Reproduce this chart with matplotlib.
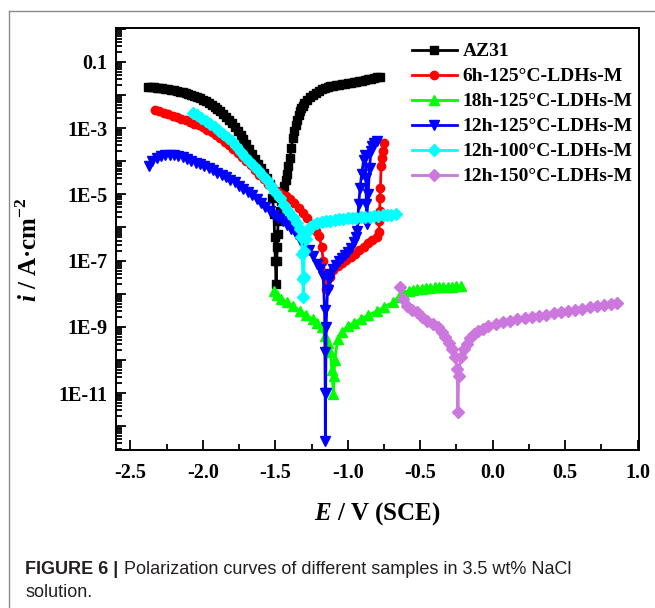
import matplotlib
matplotlib.use("Agg")
import matplotlib.pyplot as plt
import numpy as np
from matplotlib.ticker import LogLocator, FuncFormatter, MultipleLocator, NullFormatter
from matplotlib.lines import Line2D

plt.rcParams['font.family'] = ['Liberation Serif', 'DejaVu Serif']
plt.rcParams['font.weight'] = 'bold'
plt.rcParams['axes.unicode_minus'] = False
plt.rcParams['mathtext.fontset'] = 'custom'
plt.rcParams['mathtext.rm'] = 'Liberation Serif:bold'
plt.rcParams['mathtext.bfit'] = 'Liberation Serif:italic:bold'

# polarization data: potential E (V vs SCE) and log10 of current density (A/cm2)
az31_E = [-2.38, -2.36, -2.34, -2.32, -2.30, -2.28, -2.26, -2.24, -2.22, -2.20, -2.18, -2.16,
          -2.14, -2.12, -2.10, -2.08, -2.06, -2.04, -2.02, -2.00, -1.98, -1.96, -1.94, -1.92,
          -1.90, -1.88, -1.86, -1.84, -1.82, -1.80, -1.78, -1.76, -1.74, -1.72, -1.70, -1.68,
          -1.66, -1.64, -1.62, -1.60, -1.58, -1.56, -1.54, -1.52, -1.51, -1.505, -1.50, -1.495,
          -1.49, -1.487, -1.485, -1.48, -1.47, -1.46, -1.45, -1.44, -1.43, -1.42, -1.41, -1.40,
          -1.39, -1.38, -1.37, -1.36, -1.35, -1.34, -1.33, -1.32, -1.31, -1.30, -1.28, -1.26,
          -1.24, -1.22, -1.20, -1.18, -1.16, -1.14, -1.12, -1.10, -1.08, -1.06, -1.04, -1.02,
          -1.00, -0.98, -0.96, -0.94, -0.92, -0.90, -0.88, -0.86, -0.84, -0.82, -0.80, -0.78]
az31_logi = [-1.75, -1.76, -1.77, -1.78, -1.79, -1.80, -1.82, -1.83, -1.85, -1.86, -1.88, -1.90,
             -1.92, -1.94, -1.97, -2.00, -2.03, -2.06, -2.10, -2.14, -2.19, -2.24, -2.30, -2.36,
             -2.43, -2.50, -2.58, -2.67, -2.76, -2.86, -2.96, -3.08, -3.20, -3.34, -3.48, -3.63,
             -3.78, -3.93, -4.08, -4.22, -4.36, -4.52, -4.70, -5.10, -5.60, -6.30, -7.00, -7.70,
             -7.00, -6.60, -6.20, -5.80, -5.50, -5.20, -4.95, -4.75, -4.58, -4.40, -4.15, -3.90,
             -3.60, -3.30, -3.08, -2.90, -2.75, -2.62, -2.50, -2.40, -2.32, -2.24, -2.14, -2.05,
             -1.99, -1.93, -1.88, -1.83, -1.80, -1.77, -1.74, -1.72, -1.70, -1.69, -1.67, -1.66,
             -1.64, -1.63, -1.61, -1.60, -1.58, -1.57, -1.55, -1.53, -1.51, -1.49, -1.47, -1.45]

h6_E = [-2.33, -2.30, -2.27, -2.24, -2.21, -2.18, -2.15, -2.12, -2.09, -2.06, -2.03, -2.00,
        -1.97, -1.94, -1.91, -1.88, -1.85, -1.82, -1.79, -1.76, -1.73, -1.70, -1.67, -1.64,
        -1.61, -1.58, -1.55, -1.52, -1.49, -1.46, -1.43, -1.40, -1.37, -1.34, -1.31, -1.28,
        -1.25, -1.22, -1.20, -1.18, -1.17, -1.16, -1.15, -1.14, -1.12, -1.10, -1.07, -1.04,
        -1.01, -0.98, -0.95, -0.92, -0.89, -0.86, -0.83, -0.80, -0.785, -0.782, -0.78, -0.778,
        -0.775, -0.77, -0.765, -0.76, -0.75]
h6_logi = [-2.45, -2.50, -2.54, -2.59, -2.63, -2.68, -2.72, -2.77, -2.82, -2.87, -2.92, -2.98,
           -3.05, -3.12, -3.21, -3.30, -3.41, -3.52, -3.63, -3.74, -3.86, -3.99, -4.12, -4.26,
           -4.41, -4.55, -4.68, -4.79, -4.89, -4.98, -5.05, -5.15, -5.26, -5.40, -5.55, -5.72,
           -5.91, -6.11, -6.25, -6.60, -7.00, -7.40, -7.85, -7.80, -7.50, -7.30, -7.17, -7.06,
           -6.98, -6.89, -6.79, -6.68, -6.58, -6.48, -6.39, -6.30, -6.15, -5.80, -5.50, -5.10,
           -4.80, -4.16, -3.90, -3.70, -3.44]

h18_E = [-1.51, -1.49, -1.46, -1.42, -1.38, -1.33, -1.29, -1.24, -1.21, -1.18, -1.16, -1.14,
         -1.12, -1.11, -1.10, -1.095, -1.09, -1.07, -1.04, -1.00, -0.96, -0.91, -0.86, -0.80,
         -0.75, -0.69, -0.65, -0.62, -0.58, -0.55, -0.52, -0.49, -0.46, -0.43, -0.40, -0.37,
         -0.34, -0.31, -0.28, -0.25, -0.22]
h18_logi = [-7.93, -8.05, -8.15, -8.26, -8.37, -8.53, -8.65, -8.77, -8.88, -9.01, -9.28, -9.50,
            -9.77, -10.30, -11.03, -10.49, -10.00, -9.37, -9.15, -8.98, -8.88, -8.77, -8.65, -8.53,
            -8.40, -8.26, -8.10, -7.96, -7.92, -7.89, -7.87, -7.85, -7.84, -7.82, -7.80, -7.80,
            -7.80, -7.79, -7.79, -7.78, -7.78]

h12_E = [-2.37, -2.35, -2.32, -2.29, -2.26, -2.23, -2.20, -2.17, -2.14, -2.11, -2.08, -2.05,
         -2.02, -1.99, -1.96, -1.93, -1.90, -1.87, -1.84, -1.81, -1.78, -1.75, -1.72, -1.69,
         -1.66, -1.63, -1.60, -1.57, -1.54, -1.51, -1.48, -1.45, -1.42, -1.39, -1.36, -1.33,
         -1.30, -1.27, -1.24, -1.21, -1.19, -1.17, -1.16, -1.158, -1.156, -1.155, -1.153, -1.15,
         -1.14, -1.13, -1.12, -1.10, -1.08, -1.06, -1.04, -1.02, -1.00, -0.98, -0.96, -0.945,
         -0.935, -0.93, -0.925, -0.915, -0.905, -0.89, -0.88, -0.875, -0.872, -0.87, -0.86,
         -0.85, -0.84, -0.83, -0.82, -0.80]
h12_logi = [-4.16, -4.00, -3.90, -3.84, -3.81, -3.80, -3.81, -3.84, -3.88, -3.93, -3.99, -4.05,
            -4.10, -4.16, -4.22, -4.28, -4.35, -4.41, -4.48, -4.56, -4.64, -4.74, -4.84, -4.93,
            -5.03, -5.13, -5.25, -5.38, -5.51, -5.62, -5.72, -5.82, -5.92, -6.05, -6.20, -6.37,
            -6.52, -6.67, -6.87, -7.10, -7.25, -7.48, -8.50, -9.77, -11.00, -12.45, -11.00, -9.00,
            -7.90, -7.60, -7.40, -7.27, -7.15, -7.02, -6.92, -6.83, -6.75, -6.62, -6.45, -6.28,
            -6.10, -5.75, -5.30, -4.80, -4.40, -3.95, -3.80, -4.50, -5.30, -5.90, -5.00,
            -4.20, -3.70, -3.55, -3.45, -3.40]

h12_100_E = [-2.07, -2.04, -2.01, -1.98, -1.95, -1.92, -1.89, -1.86, -1.83, -1.80, -1.77, -1.74,
             -1.71, -1.68, -1.65, -1.62, -1.59, -1.56, -1.53, -1.50, -1.47, -1.44, -1.41, -1.38,
             -1.35, -1.33, -1.32, -1.315, -1.31, -1.308, -1.305, -1.30, -1.29, -1.28, -1.26, -1.24,
             -1.21, -1.18, -1.15, -1.12, -1.09, -1.06, -1.03, -1.00, -0.97, -0.94, -0.91, -0.88,
             -0.85, -0.82, -0.79, -0.76, -0.73, -0.70, -0.67]
h12_100_logi = [-2.54, -2.62, -2.70, -2.78, -2.87, -2.98, -3.08, -3.19, -3.30, -3.40, -3.55, -3.71,
                -3.87, -4.00, -4.14, -4.27, -4.41, -4.58, -4.76, -4.93, -5.12, -5.32, -5.50, -5.68,
                -5.88, -6.05, -6.30, -6.80, -7.57, -8.10, -7.50, -6.70, -6.35, -6.15, -6.00, -5.93,
                -5.88, -5.85, -5.82, -5.80, -5.78, -5.76, -5.75, -5.73, -5.72, -5.71, -5.70, -5.69,
                -5.68, -5.67, -5.66, -5.64, -5.63, -5.62, -5.61]

h12_150_E = [-0.64, -0.62, -0.59, -0.555, -0.52, -0.485, -0.45, -0.415, -0.38, -0.35, -0.33, -0.30,
             -0.28, -0.26, -0.245, -0.24, -0.235, -0.22, -0.20, -0.18, -0.155, -0.13, -0.10, -0.07,
             -0.03, 0.02, 0.07, 0.12, 0.17, 0.22, 0.27, 0.32, 0.37, 0.42, 0.47, 0.52, 0.57, 0.62,
             0.67, 0.72, 0.77, 0.82, 0.86]
h12_150_logi = [-7.81, -8.15, -8.38, -8.48, -8.56, -8.70, -8.83, -8.92, -9.01, -9.15, -9.31, -9.50,
                -9.67, -9.90, -10.28, -11.57, -10.50, -9.90, -9.68, -9.52, -9.35, -9.22, -9.14, -9.07,
                -8.99, -8.93, -8.87, -8.82, -8.77, -8.73, -8.70, -8.67, -8.63, -8.58, -8.54, -8.51,
                -8.48, -8.45, -8.41, -8.38, -8.35, -8.31, -8.29]

series = [
    ('AZ31', az31_E, az31_logi, 'black', 's', 5.5),
    ('6h-125°C-LDHs-M', h6_E, h6_logi, '#ff0000', 'o', 6),
    ('18h-125°C-LDHs-M', h18_E, h18_logi, '#00ff00', '^', 7),
    ('12h-125°C-LDHs-M', h12_E, h12_logi, '#0000ff', 'v', 7),
    ('12h-100°C-LDHs-M', h12_100_E, h12_100_logi, '#00ffff', 'D', 6),
    ('12h-150°C-LDHs-M', h12_150_E, h12_150_logi, '#cc77dd', 'D', 6),
]

fig = plt.figure(figsize=(6.55, 6.08), dpi=100)
ax = fig.add_axes([116 / 655, 158 / 608, 523 / 655, 422 / 608])

for name, E, logi, col, mk, ms in series:
    ax.plot(E, 10 ** np.array(logi), color=col, marker=mk, markersize=ms,
            linewidth=2, label=name)

ax.set_yscale('log')
ax.set_xlim(-2.6, 1.01)
ax.set_ylim(10 ** -12.72, 10 ** 0.02)

ax.xaxis.set_major_locator(MultipleLocator(0.5))
ax.xaxis.set_minor_locator(MultipleLocator(0.25))
ax.xaxis.set_major_formatter(FuncFormatter(lambda v, p: '%.1f' % v))

ax.yaxis.set_major_locator(LogLocator(base=10, numticks=30))
ax.yaxis.set_minor_locator(LogLocator(base=10, subs=np.arange(2, 10), numticks=30))
ax.yaxis.set_minor_formatter(NullFormatter())


def ylab(v, p):
    e = int(round(np.log10(v)))
    if e % 2 == 0:
        return ''
    if e == -1:
        return '0.1'
    return '1E%d' % e


ax.yaxis.set_major_formatter(FuncFormatter(ylab))

ax.tick_params(which='both', direction='in', top=False, right=False, width=1.3)
ax.tick_params(which='major', length=7)
ax.tick_params(which='minor', length=4)
ax.tick_params(axis='x', which='major', pad=9, labelsize=14.5)
ax.tick_params(axis='y', which='major', pad=6, labelsize=14.5)
for s in ax.spines.values():
    s.set_linewidth(1.4)

ax.set_xlabel(r'$\mathbfit{E}$ / V (SCE)', fontsize=18, fontweight='bold')
ax.set_ylabel(r'$\mathbfit{i}$ / A·cm$^{\mathrm{-2}}$', fontsize=18, fontweight='bold')
ax.xaxis.set_label_coords(0.5, -0.118)
ax.yaxis.set_label_coords(-0.1415, 0.474)

ax.legend(loc='upper left', bbox_to_anchor=(0.566, 0.965), frameon=False, borderpad=0,
          borderaxespad=0, handlelength=2.3, handletextpad=0.3, labelspacing=0.38,
          numpoints=1, prop={'family': 'Liberation Serif', 'weight': 'bold', 'size': 14})

# page frame lines
fig.add_artist(Line2D([9 / 655, 1], [1 - 11 / 608, 1 - 11 / 608], color='#8a8a8a', linewidth=1))
fig.add_artist(Line2D([9 / 655, 9 / 655], [0, 1 - 11 / 608], color='#8a8a8a', linewidth=1))

# caption
cap_col = '#231f20'
t1 = fig.text(25 / 655, 1 - 574 / 608, 'FIGURE 6 |', fontsize=13, fontweight='bold',
              family='Liberation Sans', color=cap_col, va='baseline')
fig.canvas.draw()
bb = t1.get_window_extent(fig.canvas.get_renderer())
fig.text((bb.x1 + 6) / fig.bbox.width, 1 - 574 / 608,
         'Polarization curves of different samples in 3.5 wt% NaCl', fontsize=13,
         fontweight='normal', family='Liberation Sans', color=cap_col, va='baseline')
fig.text(25 / 655, 1 - 597 / 608, 'solution.', fontsize=13, fontweight='normal',
         family='Liberation Sans', color=cap_col, va='baseline')

fig.savefig('out.png', dpi=100)
